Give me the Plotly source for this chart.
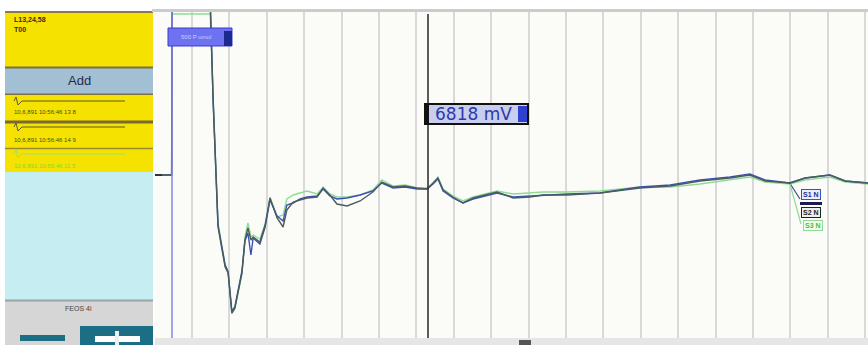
import plotly.graph_objects as go

W, H = 868, 345

# time axis (ms after trigger), one grid division = 1 ms
time_ms = [-0.45, -0.01, 0.0, 1.02, 1.10, 1.23, 1.42, 1.50, 1.60, 1.68, 1.87, 1.95, 2.03,
           2.11, 2.17, 2.35, 2.49, 2.62, 2.81, 2.97, 3.07, 3.24, 3.42, 3.61, 3.88, 4.04,
           4.22, 4.41, 4.68, 5.03, 5.37, 5.61, 5.91, 6.23, 6.55, 6.82, 6.98, 7.11, 7.25,
           7.51, 7.78, 8.05, 8.37, 8.69, 9.12, 9.57, 9.92, 10.56, 11.44, 12.51, 13.32,
           14.12, 14.92, 15.45, 15.86, 16.52, 16.93, 17.59, 18.00, 18.61]

s1_values = [0, 0, 17.5, 17.5, 7.3, -5.0, -9.0, -9.7, -13.6, -13.2, -9.6, -6.6, -5.8,
             -8.0, -6.3, -6.9, -5.2, -2.5, -4.1, -4.6, -3.0, -2.8, -2.4, -2.2, -2.1, -1.4,
             -2.1, -2.4, -2.3, -2.0, -1.6, -0.8, -1.3, -1.2, -1.4, -1.4, -0.9, -0.4, -1.6,
             -2.3, -2.8, -2.4, -2.1, -1.8, -2.2, -2.1, -2.0, -1.9, -1.8, -1.2, -1.0,
             -0.5, -0.2, 0.1, -0.5, -0.8, -0.3, 0.0, -0.6, -0.8]

s2_values = [0, 0, 17.5, 17.5, 7.5, -5.2, -9.2, -9.8, -13.8, -13.3, -9.8, -6.5, -5.3,
             -6.5, -6.2, -6.7, -5.0, -2.3, -4.3, -5.2, -3.5, -2.7, -2.5, -2.3, -2.2, -1.3,
             -2.0, -2.9, -3.1, -2.6, -1.7, -0.7, -1.2, -1.1, -1.3, -1.4, -0.8, -0.3, -1.5,
             -2.2, -2.8, -2.3, -2.0, -1.7, -2.3, -2.2, -2.0, -2.0, -1.8, -1.3, -1.1,
             -0.6, -0.3, 0.0, -0.6, -0.8, -0.3, 0.0, -0.6, -0.8]

s3_values = [0, 0, 16.1, 16.1, 7.8, -4.8, -9.0, -9.6, -13.9, -13.4, -9.9, -6.2, -4.8,
             -6.2, -6.0, -6.4, -4.9, -2.2, -4.2, -4.0, -2.4, -2.0, -1.8, -1.6, -1.9, -1.2,
             -1.9, -2.2, -2.2, -2.0, -1.5, -0.5, -1.1, -1.0, -1.3, -1.3, -0.8, -0.2, -1.4,
             -2.1, -2.6, -2.2, -1.9, -1.6, -1.9, -1.8, -1.7, -1.7, -1.6, -1.2, -1.2,
             -0.9, -0.5, -0.2, -0.7, -0.9, -0.5, -0.2, -0.7, -0.9]

series_names = ["S1 N", "S2 N", "S3 N"]
series_colors = ["#3f4fb8", "#4b5c5a", "#8fdc95"]

cursor_ms = 6.845
cursor_label = "6818 mV"
marker_label = "500 P umol"
panel_title = ["L13,24,58", "T00"]
panel_items = ["10,6,891 10:56:46 13 8", "10,6,891 10:56:46 14 9", "10,6,891 10:56:46 11 5"]
panel_item_colors = ["#4a4a20", "#4a4a20", "#7fd640"]
footer_label = "FEOS 4i"

def px(x):
    return x / W

def py(y):
    return 1 - y / H

fig = go.Figure()
all_values = [s1_values, s2_values, s3_values]
for i in [2, 0, 1]:
    fig.add_trace(go.Scatter(x=time_ms, y=all_values[i], mode="lines", name=series_names[i],
                             line=dict(color=series_colors[i], width=1.4),
                             showlegend=False, hoverinfo="skip"))

shapes = []
def rect(x0, y0, x1, y1, fill, line_color=None, lw=0, layer="above"):
    shapes.append(dict(type="rect", xref="paper", yref="paper",
                       x0=px(x0), x1=px(x1), y0=py(y1), y1=py(y0),
                       fillcolor=fill, line=dict(color=line_color or fill, width=lw), layer=layer))

def line(x0, y0, x1, y1, color, w):
    shapes.append(dict(type="line", xref="paper", yref="paper", x0=px(x0), x1=px(x1),
                       y0=py(y0), y1=py(y1), line=dict(color=color, width=w), layer="above"))

def hline(x0, x1, y, color, w):
    line(x0, y, x1, y, color, w)

# left panel
rect(5, 12, 153, 67, "#f6e200")
hline(5, 153, 12, "#8a7a50", 2)
rect(5, 67, 153, 95, "#a3bfd3")
hline(5, 153, 67.5, "#7d7040", 2)
hline(5, 153, 94.5, "#7d7040", 2)
rect(5, 95, 153, 172, "#f6e200")
hline(5, 153, 122, "#7a6a30", 3)
hline(5, 153, 148.5, "#9a8a30", 1.5)
rect(5, 172, 153, 300, "#c6edf1")
rect(5, 300, 153, 345, "#d6d6d6")
hline(5, 153, 300.5, "#9aa5a5", 2)
rect(80, 326, 153, 345, "#1b6e84")
rect(95, 336, 140, 342, "#ffffff")
rect(115, 331, 119, 345, "#e8f0f2")
rect(20, 335, 65, 341, "#1b6e84")
# item mini waveforms
for yy, col in [(101, "#5a5a30"), (127, "#5a5a30"), (154, "#9be070")]:
    hline(22, 125, yy, col, 1)
    shapes.append(dict(type="path", xref="paper", yref="paper",
                       path=f"M {px(14)},{py(yy)} L {px(16)},{py(yy-4)} L {px(18)},{py(yy+4)} L {px(22)},{py(yy)}",
                       line=dict(color=col, width=1), layer="above"))

# top border and bottom strip of plot
rect(152, 9, 868, 12, "#cccccc")
rect(155, 338, 868, 345, "#e6e6e6")
rect(519, 340, 531, 345, "#555555")
# zero marker on left of plot
hline(155, 162, 175, "#333333", 2)

# trigger line and cursor (data x)
shapes.append(dict(type="line", xref="x", yref="paper", x0=0, x1=0, y0=py(338), y1=py(12),
                   line=dict(color="#8585e6", width=1.5), layer="above"))
shapes.append(dict(type="line", xref="x", yref="paper", x0=cursor_ms, x1=cursor_ms,
                   y0=py(338), y1=py(14), line=dict(color="#333333", width=1.6), layer="above"))

# label leader lines at right end
line(789, 182, 800, 199, "#3a4a8a", 1.2)
line(790, 184, 801, 224, "#8fdc95", 1.2)

# label boxes
rect(168, 28, 232, 46, "#6f72f0", "#3a3ad0", 1)
rect(224, 31, 232, 46, "#1c2a90")
rect(425, 104, 528, 124, "#c9cdee", "#111111", 2)
rect(425, 104, 429, 124, "#111111")
rect(518, 106, 527, 122, "#2f3fd0")
rect(800, 202, 822, 205, "#1a1a50")

fig.update_layout(shapes=shapes)

ann = []
def text(x, y, s, size, color, bold=False, xanchor="center", bg=None, border=None, bw=0, family="Arial"):
    ann.append(dict(xref="paper", yref="paper", x=px(x), y=py(y), text=f"<b>{s}</b>" if bold else s,
                    showarrow=False, xanchor=xanchor, yanchor="middle",
                    font=dict(size=size, color=color, family=family),
                    bgcolor=bg, bordercolor=border, borderwidth=bw, borderpad=1))

text(13, 20, panel_title[0], 7, "#303010", True, "left")
text(13, 29, panel_title[1], 7, "#303010", True, "left")
text(79, 80, "Add", 13, "#1e2d4a")
for yy, s, c in zip([112, 140, 166], panel_items, panel_item_colors):
    text(13, yy, s, 6, c, False, "left")
text(78, 308, footer_label, 7, "#444444")
text(196, 37, marker_label, 6, "#c8d0ff")
text(473, 114, cursor_label, 17, "#2b3aa8", family="DejaVu Sans")
text(811, 195, series_names[0], 7, "#26308a", True, bg="#e8ecff", border="#4050c0", bw=1)
text(811, 212, series_names[1], 7, "#222222", True, bg="#eeeeee", border="#222222", bw=1)
text(813, 226, series_names[2], 7, "#50b850", True, bg="#f0fff0", border="#8fdc95", bw=1)
fig.update_layout(annotations=ann)

fig.update_layout(
    width=W, height=H, autosize=False,
    margin=dict(l=0, r=0, t=0, b=0),
    paper_bgcolor="#ffffff", plot_bgcolor="#fbfcf8",
    xaxis=dict(domain=[px(155), 1], range=[-0.455, 18.61], showgrid=True, tick0=0.535, dtick=1,
               gridcolor="#d9d9d9", gridwidth=1.5, zeroline=False, showticklabels=False,
               showline=False, fixedrange=True),
    yaxis=dict(domain=[py(338), py(12)], range=[-16.3, 16.3], showgrid=False, zeroline=False,
               showticklabels=False, showline=False, fixedrange=True),
)

fig.write_html("out.html", config={"displayModeBar": False},
               post_script="document.body.style.margin='0';document.body.style.overflow='hidden';")
